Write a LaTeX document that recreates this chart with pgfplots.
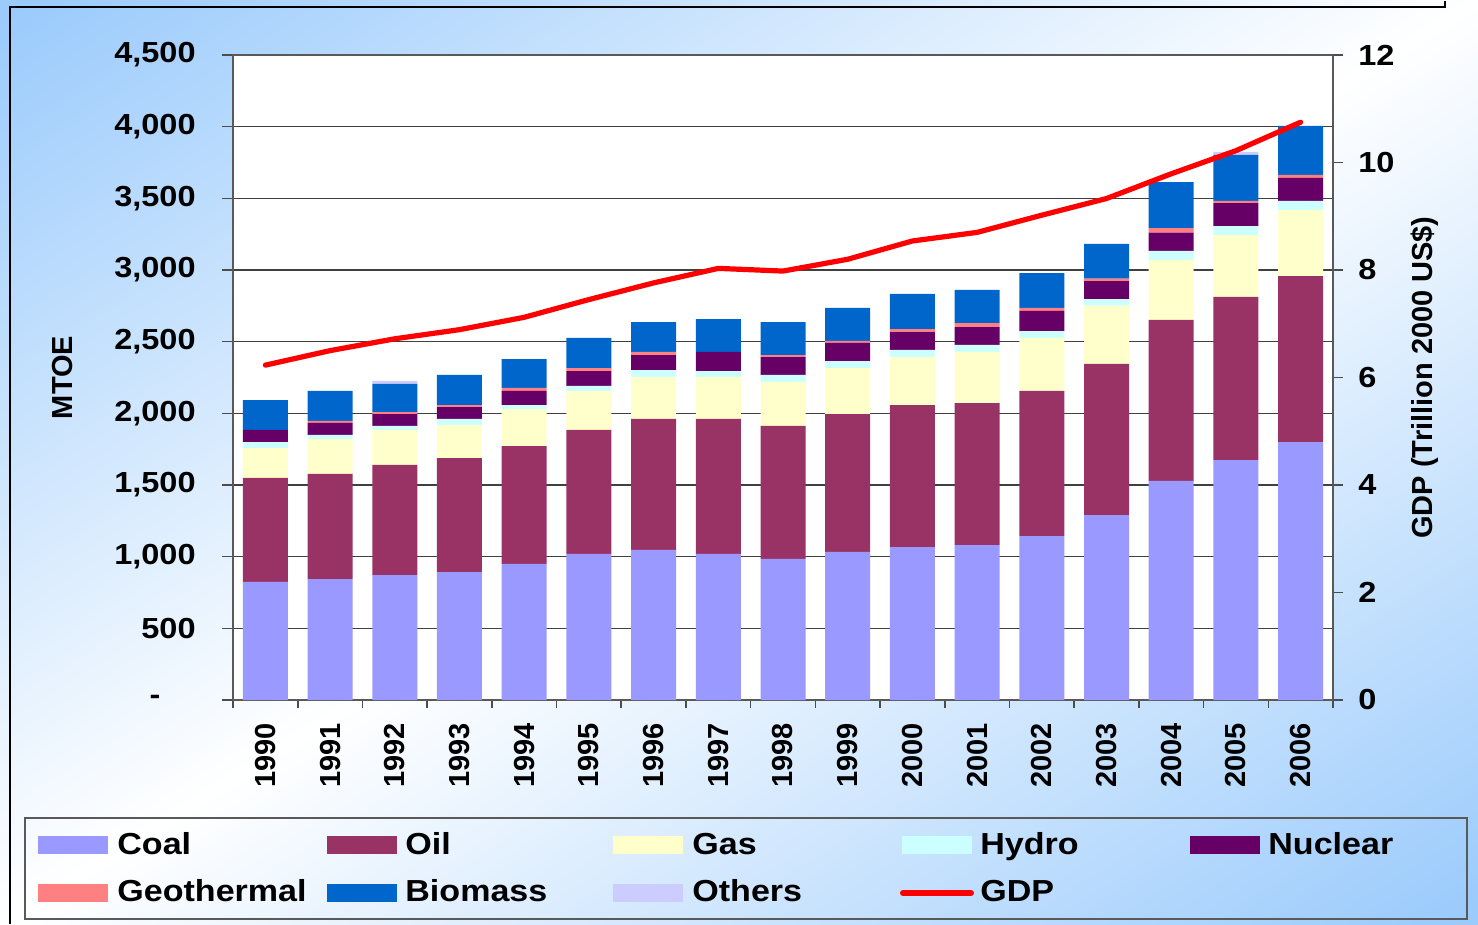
\documentclass[border=0pt]{standalone}
\usepackage{fontspec}
\setmainfont{Liberation Sans}[FakeStretch=1.12]
\newfontfamily\rotfont{Liberation Sans}
\usepackage{pgfplots}
\usepackage{pgfplotstable}
\pgfplotsset{compat=1.18}
\definecolor{cCoal}{HTML}{9999FF}
\definecolor{cOil}{HTML}{993366}
\definecolor{cGas}{HTML}{FFFFCC}
\definecolor{cHydro}{HTML}{CCFFFF}
\definecolor{cNuc}{HTML}{660066}
\definecolor{cGeo}{HTML}{FF8080}
\definecolor{cBio}{HTML}{0066CC}
\definecolor{cOth}{HTML}{CCCCFF}
\definecolor{bgb}{RGB}{155,203,252}
\pgfdeclarehorizontalshading{bgsh}{100bp}{color(0bp)=(bgb); color(24bp)=(bgb); color(50bp)=(white); color(76bp)=(bgb); color(100bp)=(bgb)}

\pgfplotstableread{
x coal oil gas hydro nuc geo bio oth gdp
0  825  724 209 42  84  0  209 0  6.23
1  844  733 244 28  84  14 209 0  6.50
2  872  768 244 28  83  14 196 21 6.72
3  893  795 231 42  83  14 210 0  6.89
4  949  823 258 28  98  21 202 0  7.12
5  1019 865 272 35  104 21 210 0  7.45
6  1047 914 293 48  105 21 209 0  7.76
7  1019 942 293 41  133 0  230 0  8.03
8  984  928 307 49  125 14 230 0  7.98
9  1033 962 321 49  126 14 230 0  8.20
10 1067 991 335 49  125 21 245 0  8.54
11 1081 991 356 49  125 28 231 0  8.70
12 1144 1012 370 48 140 21 244 0  9.02
13 1289 1056 407 45 126 16 244 0  9.33
14 1528 1124 418 63 128 32 320 0  9.79
15 1673 1139 431 63 160 16 321 21 10.22
16 1799 1158 462 63 160 21 342 0  10.75
}\datatable

\newcommand{\tf}{\bfseries\fontsize{14.5}{17}\selectfont}
\newcommand{\lf}{\bfseries\fontsize{15.2}{17}\selectfont}
\newcommand{\rf}{\rotfont\bfseries\fontsize{14.5}{17}\selectfont}

\begin{document}
\begin{tikzpicture}
\begin{scope}
\clip (0,0) rectangle (739pt,-461.5pt);
\shade[shading=bgsh, shading angle=-58] (0pt,138.75pt) rectangle (739pt,-600.25pt);
\end{scope}
\draw[black, line width=1pt] (5pt,-461.5pt) -- (5pt,-3pt) -- (722.5pt,-3pt) -- (722.5pt,0pt);

\begin{axis}[
  at={(116.5pt,-349.5pt)}, anchor=south west,
  scale only axis, width=550pt, height=322.5pt,
  ybar stacked, bar width=22.5pt,
  xmin=-0.5, xmax=16.5, ymin=0, ymax=4500,
  axis background/.style={fill=white},
  axis line style={black!65, line width=0.8pt},
  tick style={black!70, line width=0.8pt},
  tick align=outside,
  major tick length=5.5pt,
  minor tick length=4pt,
  ytick={0,500,...,4500},
  yticklabels={{\makebox[23pt][l]{-}},500,{1,000},{1,500},{2,000},{2,500},{3,000},{3,500},{4,000},{4,500}},
  ytick pos=left,
  yticklabel style={font=\tf, anchor=east, inner sep=0pt},
  yticklabel shift=13pt,
  ymajorgrids, grid style={black!75, line width=0.7pt},
  xtick={0,...,16},
  xticklabels={1990,1991,1992,1993,1994,1995,1996,1997,1998,1999,2000,2001,2002,2003,2004,2005,2006},
  xtick pos=bottom,
  major x tick style={draw=none},
  minor xtick={-0.5,0.5,...,16.5},
  xticklabel style={font=\rf, rotate=90, anchor=east, inner sep=0pt},
  xticklabel shift=6pt,
  ylabel={MTOE},
  every axis y label/.style={at={(axis description cs:0,0.5)}, xshift=-85pt, rotate=90, anchor=center, font=\rf},
]
\addplot[fill=cCoal, draw=none] table[x=x,y=coal]{\datatable};
\addplot[fill=cOil, draw=none] table[x=x,y=oil]{\datatable};
\addplot[fill=cGas, draw=none] table[x=x,y=gas]{\datatable};
\addplot[fill=cHydro, draw=none] table[x=x,y=hydro]{\datatable};
\addplot[fill=cNuc, draw=none] table[x=x,y=nuc]{\datatable};
\addplot[fill=cGeo, draw=none] table[x=x,y=geo]{\datatable};
\addplot[fill=cBio, draw=none] table[x=x,y=bio]{\datatable};
\addplot[fill=cOth, draw=none] table[x=x,y=oth]{\datatable};
\end{axis}

\begin{axis}[
  at={(116.5pt,-349.5pt)}, anchor=south west,
  scale only axis, width=550pt, height=322.5pt,
  xmin=-0.5, xmax=16.5, ymin=0, ymax=12,
  axis x line=none, axis y line*=right,
  axis line style={black!65, line width=0.8pt},
  tick style={black!70, line width=0.8pt},
  tick align=outside, major tick length=5pt,
  ytick={0,2,...,12},
  /pgf/number format/assume math mode=true,
  yticklabel style={font=\tf, anchor=west, inner sep=0pt},
  yticklabel shift=7.5pt,
  ylabel={GDP (Trillion 2000 US\$)},
  every axis y label/.style={at={(axis description cs:1,0.5)}, xshift=46pt, rotate=90, anchor=center, font=\rf},
]
\addplot[red, line width=2.6pt, line cap=round, line join=round] table[x=x,y=gdp]{\datatable};
\end{axis}

% legend
\draw[black!65, line width=1pt] (12.5pt,-408.5pt) rectangle (733.5pt,-459pt);
\fill[cCoal] (19pt,-417.5pt) rectangle ++(35pt,-9pt);
\node[font=\lf, anchor=base west, inner sep=0pt] at (58.5pt,-426.5pt) {Coal};
\fill[cOil] (163.5pt,-417.5pt) rectangle ++(35pt,-9pt);
\node[font=\lf, anchor=base west, inner sep=0pt] at (202.5pt,-426.5pt) {Oil};
\fill[cGas] (306.5pt,-417.5pt) rectangle ++(35pt,-9pt);
\node[font=\lf, anchor=base west, inner sep=0pt] at (346pt,-426.5pt) {Gas};
\fill[cHydro] (451pt,-417.5pt) rectangle ++(35pt,-9pt);
\node[font=\lf, anchor=base west, inner sep=0pt] at (490pt,-426.5pt) {Hydro};
\fill[cNuc] (595pt,-417.5pt) rectangle ++(35pt,-9pt);
\node[font=\lf, anchor=base west, inner sep=0pt] at (634pt,-426.5pt) {Nuclear};
\fill[cGeo] (19pt,-441.5pt) rectangle ++(35pt,-9pt);
\node[font=\lf, anchor=base west, inner sep=0pt] at (58.5pt,-450pt) {Geothermal};
\fill[cBio] (163.5pt,-441.5pt) rectangle ++(35pt,-9pt);
\node[font=\lf, anchor=base west, inner sep=0pt] at (202.5pt,-450pt) {Biomass};
\fill[cOth] (306.5pt,-441.5pt) rectangle ++(35pt,-9pt);
\node[font=\lf, anchor=base west, inner sep=0pt] at (346pt,-450pt) {Others};
\draw[red, line width=3pt, line cap=round] (451.5pt,-446pt) -- (485.5pt,-446pt);
\node[font=\lf, anchor=base west, inner sep=0pt] at (490pt,-450pt) {GDP};
\end{tikzpicture}
\end{document}
